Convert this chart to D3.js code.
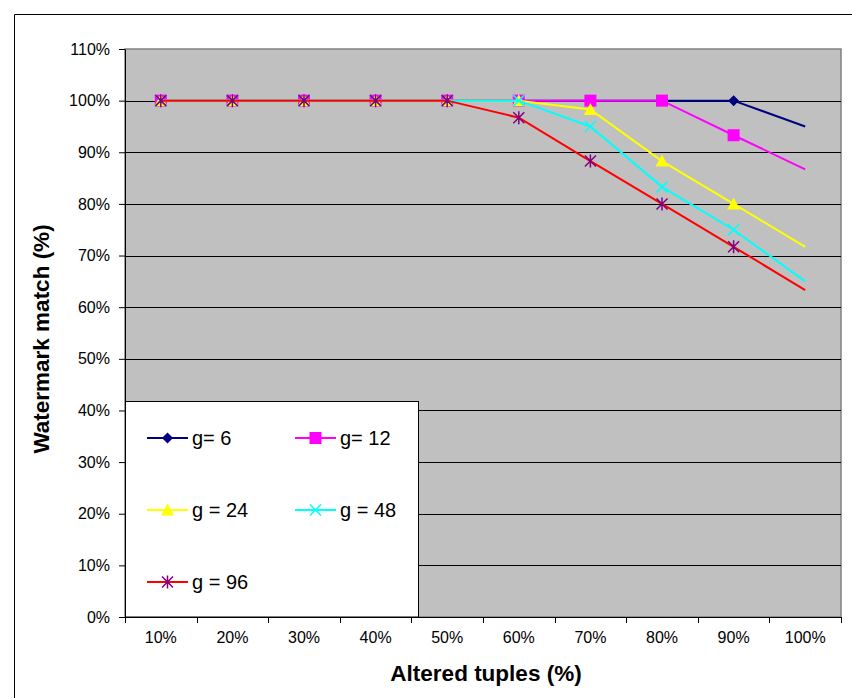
<!DOCTYPE html>
<html>
<head>
<meta charset="utf-8">
<script src="https://cdn.jsdelivr.net/npm/d3@7"></script>
<style>
  html, body { margin: 0; padding: 0; background: #fff; }
  svg { display: block; font-family: Arial, "Liberation Sans", sans-serif; }
</style>
</head>
<body>
<svg id="chart" width="852" height="698"></svg>
<script>
// Categories on the horizontal axis: share of altered tuples
const categories = ["10%", "20%", "30%", "40%", "50%", "60%", "70%", "80%", "90%", "100%"];

// Watermark match (fraction) for each group size g
const g6  = [1, 1, 1, 1, 1, 1, 1, 1, 1, 0.95];
const g12 = [1, 1, 1, 1, 1, 1, 1, 1, 0.933, 0.867];
const g24 = [1, 1, 1, 1, 1, 1, 0.983, 0.883, 0.80, 0.717];
const g48 = [1, 1, 1, 1, 1, 1, 0.95, 0.833, 0.75, 0.65];
const g96 = [1, 1, 1, 1, 1, 0.967, 0.883, 0.80, 0.717, 0.633];

const seriesNames = ["g= 6", "g= 12", "g = 24", "g = 48", "g = 96"];
const yTickValues = [0, 0.1, 0.2, 0.3, 0.4, 0.5, 0.6, 0.7, 0.8, 0.9, 1.0, 1.1];

const series = [
  { name: seriesNames[0], values: g6,  line: "#000080", marker: "#000080", shape: "diamond" },
  { name: seriesNames[1], values: g12, line: "#FF00FF", marker: "#FF00FF", shape: "square" },
  { name: seriesNames[2], values: g24, line: "#FFFF00", marker: "#FFFF00", shape: "triangle" },
  { name: seriesNames[3], values: g48, line: "#00FFFF", marker: "#00FFFF", shape: "cross" },
  { name: seriesNames[4], values: g96, line: "#FF0000", marker: "#800080", shape: "star" }
];

const svg = d3.select("#chart");

// Outer chart frame
svg.append("path")
  .attr("d", "M14.5,698 V14.5 H852")
  .attr("fill", "none").attr("stroke", "#000").attr("stroke-width", 1);

const plot = { left: 125, right: 841, top: 49, bottom: 617 };

const x = d3.scaleBand().domain(categories).range([plot.left, plot.right]).padding(0);
const y = d3.scaleLinear().domain([0, 1.1]).range([plot.bottom, plot.top]);
const cx = c => x(c) + x.bandwidth() / 2;

// Plot background
svg.append("rect")
  .attr("x", plot.left).attr("y", plot.top)
  .attr("width", plot.right - plot.left).attr("height", plot.bottom - plot.top)
  .attr("fill", "#C0C0C0").attr("stroke", "#808080").attr("stroke-width", 1.5);

// Horizontal gridlines
svg.append("g").selectAll("line")
  .data(yTickValues.filter(v => v > 0 && v < 1.1))
  .join("line")
  .attr("x1", plot.left).attr("x2", plot.right)
  .attr("y1", d => Math.round(y(d)) + 0.5).attr("y2", d => Math.round(y(d)) + 0.5)
  .attr("stroke", "#000").attr("stroke-width", 1);

// Y axis
const yAxis = svg.append("g")
  .attr("transform", `translate(${plot.left},0)`)
  .call(d3.axisLeft(y).tickValues(yTickValues).tickFormat(d3.format(".0%")).tickSize(6).tickPadding(9).tickSizeOuter(0));
yAxis.select(".domain").attr("stroke", "#000");
yAxis.selectAll(".tick line").attr("stroke", "#000");
yAxis.selectAll("text").attr("font-size", 16).attr("fill", "#000");

// X axis: labels centred in each category, ticks on category boundaries
const xAxis = svg.append("g")
  .attr("transform", `translate(0,${plot.bottom})`)
  .call(d3.axisBottom(x).tickSize(0).tickPadding(15).tickSizeOuter(0));
xAxis.select(".domain").attr("stroke", "#000").attr("stroke-width", 1.2);
xAxis.selectAll("text").attr("font-size", 16).attr("fill", "#000");
const boundaries = categories.map(c => x(c)).concat([x(categories[categories.length - 1]) + x.bandwidth()]);
xAxis.append("g").selectAll("line")
  .data(boundaries)
  .join("line")
  .attr("x1", d => Math.round(d) + 0.5).attr("x2", d => Math.round(d) + 0.5)
  .attr("y1", 0).attr("y2", 6)
  .attr("stroke", "#000");

// Axis titles
svg.append("text")
  .attr("x", (plot.left + plot.right) / 2 + 3).attr("y", 681)
  .attr("text-anchor", "middle").attr("font-size", 22.5).attr("font-weight", "bold")
  .text("Altered tuples (%)");
svg.append("text")
  .attr("transform", `translate(49,${(plot.top + plot.bottom) / 2 + 6}) rotate(-90)`)
  .attr("text-anchor", "middle").attr("font-size", 22.5).attr("font-weight", "bold")
  .text("Watermark match (%)");

// Marker drawing
function drawMarker(g, shape, color, px, py) {
  if (shape === "diamond") {
    g.append("path").attr("d", `M${px},${py - 5.5} L${px + 5.5},${py} L${px},${py + 5.5} L${px - 5.5},${py} Z`)
      .attr("fill", color);
  } else if (shape === "square") {
    g.append("rect").attr("x", px - 6).attr("y", py - 6).attr("width", 12).attr("height", 12)
      .attr("fill", color);
  } else if (shape === "triangle") {
    g.append("path").attr("d", `M${px},${py - 6.5} L${px + 6.5},${py + 5.5} L${px - 6.5},${py + 5.5} Z`)
      .attr("fill", color);
  } else if (shape === "cross") {
    g.append("path").attr("d", `M${px - 5.5},${py - 5.5} L${px + 5.5},${py + 5.5} M${px + 5.5},${py - 5.5} L${px - 5.5},${py + 5.5}`)
      .attr("stroke", color).attr("stroke-width", 1.5).attr("fill", "none");
  } else if (shape === "star") {
    g.append("path").attr("d", `M${px - 5.5},${py - 5.5} L${px + 5.5},${py + 5.5} M${px + 5.5},${py - 5.5} L${px - 5.5},${py + 5.5} M${px},${py - 6.5} L${px},${py + 6.5}`)
      .attr("stroke", color).attr("stroke-width", 1.5).attr("fill", "none");
  }
}

// Series lines and markers (the last category carries no marker)
const line = d3.line().x((d, i) => cx(categories[i])).y(d => y(d));
series.forEach(s => {
  const g = svg.append("g");
  g.append("path").attr("d", line(s.values))
    .attr("fill", "none").attr("stroke", s.line).attr("stroke-width", 2);
  s.values.forEach((v, i) => {
    if (i < s.values.length - 1) drawMarker(g, s.shape, s.marker, cx(categories[i]), y(v));
  });
});

// Legend
const legend = svg.append("g");
legend.append("rect")
  .attr("x", plot.left + 0.5).attr("y", 401.5).attr("width", 293).attr("height", plot.bottom - 401.5)
  .attr("fill", "#fff").attr("stroke", "#000").attr("stroke-width", 1);
const legendPos = [[147, 438], [295, 438], [147, 510], [295, 510], [147, 582]];
series.forEach((s, i) => {
  const [lx, ly] = legendPos[i];
  const g = legend.append("g");
  g.append("line").attr("x1", lx).attr("x2", lx + 41).attr("y1", ly).attr("y2", ly)
    .attr("stroke", s.line).attr("stroke-width", 2);
  drawMarker(g, s.shape, s.marker, lx + 20.5, ly);
  g.append("text").attr("x", lx + 45).attr("y", ly + 7)
    .attr("font-size", 20).attr("fill", "#000").text(s.name);
});
</script>
</body>
</html>
